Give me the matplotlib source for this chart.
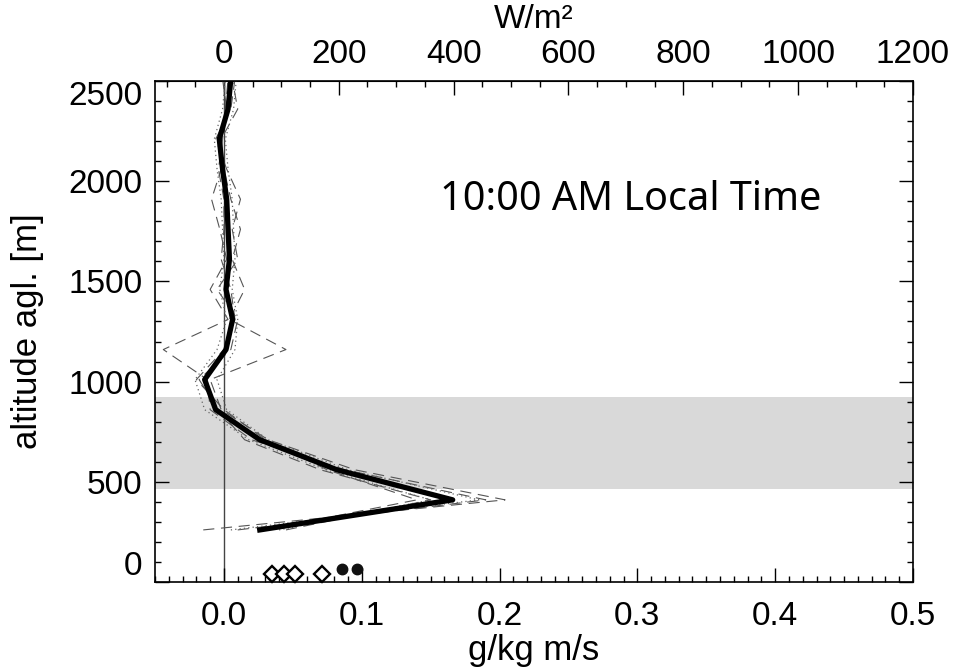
import matplotlib
matplotlib.use("Agg")
import matplotlib.pyplot as plt
from matplotlib.ticker import MultipleLocator

plt.rcParams["font.family"] = ["Liberation Sans Narrow", "Liberation Sans", "DejaVu Sans"]

# altitude levels of the profiles [m]
altitude = [260, 410, 560, 710, 860, 1010, 1160, 1310, 1460, 1610, 1760, 1910, 2060, 2210, 2360, 2510]

# mean flux profile (thick line) [g/kg m/s]
mean_flux = [0.026, 0.166, 0.082, 0.026, -0.006, -0.014, 0.0015, 0.0063, 0.0015, 0.004, 0.003, 0.002, -0.001, -0.0034, 0.003, 0.005]

# individual profiles (dashed)
dashed_1 = [-0.015, 0.204, 0.095, 0.032, -0.002, -0.010, 0.045, 0.004, 0.015, 0.006, 0.012, 0.005, 0.000, -0.002, 0.010, 0.006]
dashed_2 = [0.010, 0.190, 0.088, 0.020, -0.010, -0.012, -0.044, 0.003, -0.010, 0.002, -0.003, -0.009, -0.002, -0.004, 0.002, -0.001]
dashed_3 = [0.045, 0.150, 0.070, 0.015, -0.004, -0.018, 0.005, 0.010, -0.005, 0.010, 0.006, 0.012, 0.002, -0.006, 0.005, 0.008]
dashed_4 = [0.030, 0.140, 0.075, 0.030, 0.000, -0.020, 0.000, 0.008, 0.005, -0.002, 0.000, 0.000, -0.004, -0.001, 0.001, 0.003]

# envelope (dotted)
dotted_1 = [0.005, 0.185, 0.090, 0.032, 0.002, -0.005, 0.008, 0.010, 0.006, 0.008, 0.007, 0.006, 0.003, 0.001, 0.007, 0.009]
dotted_2 = [0.040, 0.150, 0.074, 0.018, -0.014, -0.021, -0.005, 0.002, -0.003, 0.000, -0.001, -0.002, -0.005, -0.007, -0.001, 0.001]

# surface values near the ground
diamond_x = [0.0346, 0.0435, 0.0515, 0.0713]
diamond_alt = [38, 38, 38, 38]
circle_x = [0.0854, 0.0963]
circle_alt = [63, 63]

# mixed layer band [m]
band_bottom = 465
band_top = 925

fig = plt.figure(figsize=(9.57, 6.71), dpi=100)
ax = fig.add_axes([0.162, 0.1326, 0.792, 0.7467])

ax.axhspan(band_bottom, band_top, color="#d9d9d9", lw=0, zorder=0)
ax.axvline(0.0, color="#444444", lw=1.0, zorder=1)

for d in [dashed_1, dashed_2, dashed_3, dashed_4]:
    ax.plot(d, altitude, color="#555555", lw=0.8, linestyle=(0, (10, 6)), zorder=2)
for d in [dotted_1, dotted_2]:
    ax.plot(d, altitude, color="#666666", lw=0.9, linestyle=(0, (1, 2.5)), zorder=2)

ax.plot(mean_flux, altitude, color="black", lw=3.8, zorder=3)

ax.plot(diamond_x, diamond_alt, linestyle="none", marker="D", ms=8, mfc="white",
        mec="black", mew=1.7, zorder=4, clip_on=False)
ax.plot(circle_x, circle_alt, linestyle="none", marker="o", ms=7.5, mfc="#111111",
        mec="#111111", zorder=4, clip_on=False)

ax.set_xlim(-0.05, 0.5)
ax.set_ylim(0, 2500)

ax.set_xticks([0.0, 0.1, 0.2, 0.3, 0.4, 0.5])
ax.set_xticklabels(["0.0", "0.1", "0.2", "0.3", "0.4", "0.5"])
ax.xaxis.set_minor_locator(MultipleLocator(0.01))
ax.set_yticks([0, 500, 1000, 1500, 2000, 2500])
ax.yaxis.set_minor_locator(MultipleLocator(100))

ax.tick_params(axis="both", which="both", direction="in", labelsize=24, width=1.0)
ax.tick_params(axis="x", which="both", top=False, bottom=True, pad=14)
ax.tick_params(axis="y", which="both", left=True, right=True, pad=9)
ax.tick_params(which="major", length=10)
ax.tick_params(which="minor", length=4.5)

ylabels = ax.get_yticklabels()
ylabels[0].set_va("bottom")
ylabels[-1].set_va("top")

for s in ax.spines.values():
    s.set_linewidth(1.2)

top = ax.secondary_xaxis("top", functions=(lambda x: x * 2400, lambda w: w / 2400))
top.set_xticks([0, 200, 400, 600, 800, 1000, 1200])
top.xaxis.set_minor_locator(MultipleLocator(50))
top.tick_params(axis="x", which="both", direction="in", labelsize=24, width=1.0, pad=8)
top.tick_params(which="major", length=10)
top.tick_params(which="minor", length=4.5)

fig.text(534 / 957, 1 - 20 / 671, "W/m²", ha="center", va="center", fontsize=24)

ax.set_xlabel("g/kg m/s", fontsize=25)
ax.xaxis.set_label_coords(0.5, -0.136)
ax.xaxis.label.set_va("center")
ax.set_ylabel("altitude agl. [m]", fontsize=25)
ax.yaxis.set_label_coords(-0.168, 0.5)
ax.yaxis.label.set_va("center")

ax.text(0.628, 0.762, "10:00 AM Local Time", transform=ax.transAxes, ha="center",
        va="center", fontsize=28.5, family=["Noto Sans", "DejaVu Sans"])

fig.savefig("out.png", dpi=100)
